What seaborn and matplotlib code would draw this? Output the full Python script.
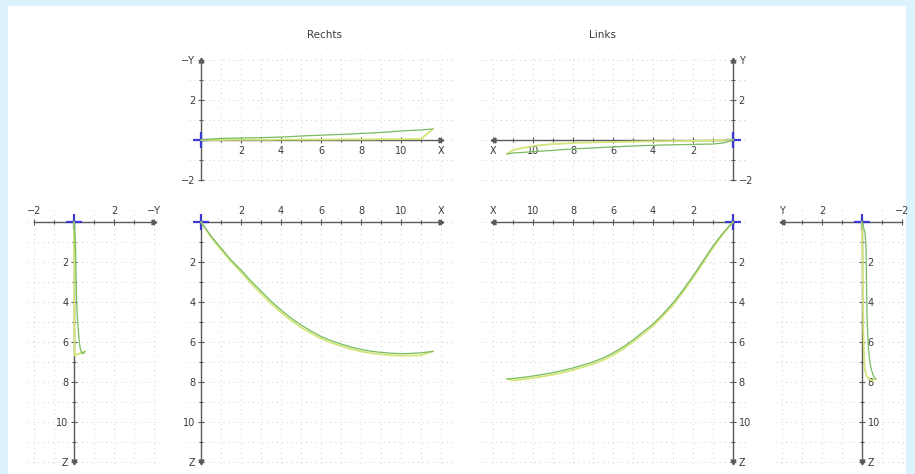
import numpy as np
import matplotlib
matplotlib.use("Agg")
import matplotlib.pyplot as plt
from matplotlib.patches import Rectangle
from matplotlib.ticker import MultipleLocator, FixedLocator, FixedFormatter
import seaborn as sns

sns.set_style("white")
plt.rcParams['font.family'] = ['DejaVu Sans']

# ---------------- data ----------------
# Rechts: outward path (green) and return path (yellow-green); Y shown as -Y
r_out_x = [0, 0.5, 1, 1.5, 2, 2.5, 3, 3.5, 4, 4.5, 5, 5.5, 6, 6.5, 7, 7.5, 8, 8.5, 9, 9.5, 10, 10.5, 11, 11.6]
r_out_negy = [0, 0.05, 0.08, 0.09, 0.1, 0.11, 0.12, 0.13, 0.15, 0.17, 0.2, 0.22, 0.24, 0.26, 0.28, 0.3,
              0.33, 0.35, 0.38, 0.41, 0.45, 0.48, 0.5, 0.55]
r_out_z = [0, 0.7, 1.3, 1.9, 2.4, 2.95, 3.45, 3.95, 4.4, 4.8, 5.15, 5.45, 5.72, 5.93, 6.1, 6.25,
           6.37, 6.46, 6.52, 6.56, 6.58, 6.57, 6.54, 6.47]
r_ret_x = [11.6, 11, 10.5, 10, 9.5, 9, 8.5, 8, 7.5, 7, 6.5, 6, 5.5, 5, 4.5, 4, 3.5, 3, 2.5, 2, 1.5, 1, 0.5, 0]
r_ret_negy = [0.55, 0.05, 0.05, 0.04, 0.04, 0.04, 0.03, 0.03, 0.03, 0.03, 0.02, 0.02, 0.02, 0.02, 0.02,
              0.02, 0.01, 0.01, 0.01, 0.01, 0.01, 0.0, 0.0, 0]
r_ret_z = [6.47, 6.66, 6.68, 6.68, 6.66, 6.62, 6.56, 6.47, 6.35, 6.2, 6.03, 5.82, 5.56, 5.27, 4.92,
           4.52, 4.07, 3.57, 3.06, 2.5, 1.97, 1.38, 0.75, 0]

# Links
l_out_x = [0, 0.5, 1, 1.5, 2, 2.5, 3, 3.5, 4, 4.5, 5, 5.5, 6, 6.5, 7, 7.5, 8, 8.5, 9, 9.5, 10, 10.5, 11, 11.3]
l_out_y = [0, -0.15, -0.2, -0.21, -0.22, -0.23, -0.24, -0.25, -0.27, -0.28, -0.3, -0.32, -0.35, -0.37,
           -0.4, -0.42, -0.45, -0.48, -0.52, -0.55, -0.58, -0.62, -0.65, -0.7]
l_out_z = [0, 0.55, 1.2, 1.95, 2.7, 3.4, 4.05, 4.6, 5.1, 5.5, 5.9, 6.25, 6.55, 6.8, 7.0, 7.15, 7.3,
           7.42, 7.53, 7.62, 7.7, 7.77, 7.82, 7.85]
l_ret_x = [11.3, 11, 10.5, 10, 9.5, 9, 8.5, 8, 7.5, 7, 6.5, 6, 5.5, 5, 4.5, 4, 3.5, 3, 2.5, 2, 1.5, 1, 0.5, 0]
l_ret_y = [-0.7, -0.5, -0.4, -0.3, -0.25, -0.2, -0.18, -0.15, -0.13, -0.12, -0.11, -0.1, -0.09, -0.08,
           -0.07, -0.06, -0.06, -0.05, -0.05, -0.04, -0.03, -0.02, -0.01, 0]
l_ret_z = [7.85, 7.92, 7.87, 7.8, 7.72, 7.63, 7.52, 7.4, 7.25, 7.1, 6.9, 6.65, 6.35, 6.0, 5.6, 5.2,
           4.7, 4.15, 3.5, 2.8, 2.05, 1.27, 0.6, 0]

x_ticks = [2, 4, 6, 8, 10, 12]
x_labels = ['2', '4', '6', '8', '10', 'X']
z_ticks = [2, 4, 6, 8, 10, 12]
z_labels = ['2', '4', '6', '8', '10', 'Z']
negy_ticks = [-2, 2, 4]
negy_labels = ['\u22122', '2', '\u2212Y']
y_labels = ['\u22122', '2', 'Y']

titles = ['Rechts', 'Links']

# ---------------- layout ----------------
W, H = 915, 474
S = 20.0  # pixels per unit
fig = plt.figure(figsize=(W / 100, H / 100), dpi=100)
fig.patch.set_facecolor('#dcf2fc')
fig.add_artist(Rectangle((8 / W, 0), (906 - 8) / W, (H - 6) / H,
                         transform=fig.transFigure, facecolor='white',
                         edgecolor='none', zorder=-10))

AX_COL = '#5a5a5a'
TXT_COL = '#3c3c3c'
GREEN = '#78bb62'
YELLOW = '#d3e577'
BLUE = '#3b3bd0'


def panel(ox, oy, xlo, xhi, ylo, yhi, xflip=False, down=False):
    if xflip:
        left, right = ox - xhi * S, ox - xlo * S
    else:
        left, right = ox + xlo * S, ox + xhi * S
    if down:
        top, bottom = oy + ylo * S, oy + yhi * S
    else:
        top, bottom = oy - yhi * S, oy - ylo * S
    ax = fig.add_axes([left / W, 1 - bottom / H, (right - left) / W, (bottom - top) / H])
    ax.set_facecolor('none')
    if xflip:
        ax.set_xlim(xhi, xlo)
    else:
        ax.set_xlim(xlo, xhi)
    if down:
        ax.set_ylim(yhi, ylo)
    else:
        ax.set_ylim(ylo, yhi)
    ax.xaxis.set_minor_locator(MultipleLocator(1))
    ax.yaxis.set_minor_locator(MultipleLocator(1))
    ax.grid(which='both', color='#cfcfcf', lw=0.7, linestyle=(0, (1, 4)))
    ax.set_axisbelow(True)
    for sp in ax.spines.values():
        sp.set_visible(False)
    ax.tick_params(which='both', direction='inout', colors=AX_COL, labelcolor=TXT_COL,
                   labelsize=7, width=0.8, pad=2)
    ax.tick_params(which='major', length=4)
    ax.tick_params(which='minor', length=3)
    return ax


def setup_axis(ax, hside, vside, xt, xl, xb, yt, yl, yb):
    sh = ax.spines[hside]
    sh.set_visible(True)
    sh.set_position(('data', 0))
    sh.set_bounds(*xb)
    sh.set_color(AX_COL)
    sh.set_linewidth(1.0)
    sv = ax.spines[vside]
    sv.set_visible(True)
    sv.set_position(('data', 0))
    sv.set_bounds(*yb)
    sv.set_color(AX_COL)
    sv.set_linewidth(1.0)
    if hside == 'top':
        ax.xaxis.tick_top()
    else:
        ax.xaxis.tick_bottom()
    if vside == 'right':
        ax.yaxis.tick_right()
    else:
        ax.yaxis.tick_left()
    ax.xaxis.set_major_locator(FixedLocator(xt))
    ax.xaxis.set_major_formatter(FixedFormatter(xl))
    ax.yaxis.set_major_locator(FixedLocator(yt))
    ax.yaxis.set_major_formatter(FixedFormatter(yl))
    ax.xaxis.set_minor_locator(MultipleLocator(1))
    ax.yaxis.set_minor_locator(MultipleLocator(1))


def arrow(ax, x, y, m):
    ax.plot([x], [y], marker=m, ms=3.5, color=AX_COL, clip_on=False, zorder=3)


def origin(ax):
    ax.plot([0], [0], marker='+', ms=11, mew=1.6, color=BLUE, clip_on=False, zorder=4)


def curves(ax, xo, yo, xr, yr):
    sns.lineplot(x=xr, y=yr, sort=False, estimator=None, ax=ax, color=YELLOW, lw=1.3, zorder=5)
    sns.lineplot(x=xo, y=yo, sort=False, estimator=None, ax=ax, color=GREEN, lw=0.9, zorder=6)


# A: top Rechts (X vs -Y)
axA = panel(201, 140, -0.6, 12.6, -2.3, 4.3)
setup_axis(axA, 'bottom', 'left', x_ticks, x_labels, (0, 12), negy_ticks, negy_labels, (-2, 4))
curves(axA, r_out_x, r_out_negy, r_ret_x, r_ret_negy)
arrow(axA, 12, 0, '>'); arrow(axA, 0, 4, '^'); origin(axA)

# B: main Rechts (X vs Z)
axB = panel(201, 222, -0.6, 12.6, -0.6, 12.3, down=True)
setup_axis(axB, 'top', 'left', x_ticks, x_labels, (0, 12), z_ticks, z_labels, (0, 12))
curves(axB, r_out_x, r_out_z, r_ret_x, r_ret_z)
arrow(axB, 12, 0, '>'); arrow(axB, 0, 12, 'v'); origin(axB)

# C: left side (-Y vs Z)
axC = panel(74, 222, -2.3, 4.3, -0.6, 12.3, down=True)
setup_axis(axC, 'top', 'left', negy_ticks, negy_labels, (-2, 4), z_ticks, z_labels, (0, 12))
curves(axC, r_out_negy, r_out_z, r_ret_negy, r_ret_z)
arrow(axC, 4, 0, '>'); arrow(axC, 0, 12, 'v'); origin(axC)

# D: top Links (X reversed vs Y)
axD = panel(733, 140, -0.6, 12.6, -2.3, 4.3, xflip=True)
setup_axis(axD, 'bottom', 'right', x_ticks, x_labels, (0, 12), negy_ticks, y_labels, (-2, 4))
curves(axD, l_out_x, l_out_y, l_ret_x, l_ret_y)
arrow(axD, 12, 0, '<'); arrow(axD, 0, 4, '^'); origin(axD)

# E: main Links (X reversed vs Z)
axE = panel(733, 222, -0.6, 12.6, -0.6, 12.3, xflip=True, down=True)
setup_axis(axE, 'top', 'right', x_ticks, x_labels, (0, 12), z_ticks, z_labels, (0, 12))
curves(axE, l_out_x, l_out_z, l_ret_x, l_ret_z)
arrow(axE, 12, 0, '<'); arrow(axE, 0, 12, 'v'); origin(axE)

# F: right side (Y reversed vs Z)
axF = panel(862, 222, -2.3, 4.3, -0.6, 12.3, xflip=True, down=True)
setup_axis(axF, 'top', 'right', negy_ticks, y_labels, (-2, 4), z_ticks, z_labels, (0, 12))
curves(axF, l_out_y, l_out_z, l_ret_y, l_ret_z)
arrow(axF, 4, 0, '<'); arrow(axF, 0, 12, 'v'); origin(axF)

fig.text(325 / W, 1 - 35 / H, titles[0], ha='center', va='center', fontsize=7.5, color=TXT_COL)
fig.text(603 / W, 1 - 35 / H, titles[1], ha='center', va='center', fontsize=7.5, color=TXT_COL)

fig.savefig('out.png', dpi=100, facecolor=fig.get_facecolor())
